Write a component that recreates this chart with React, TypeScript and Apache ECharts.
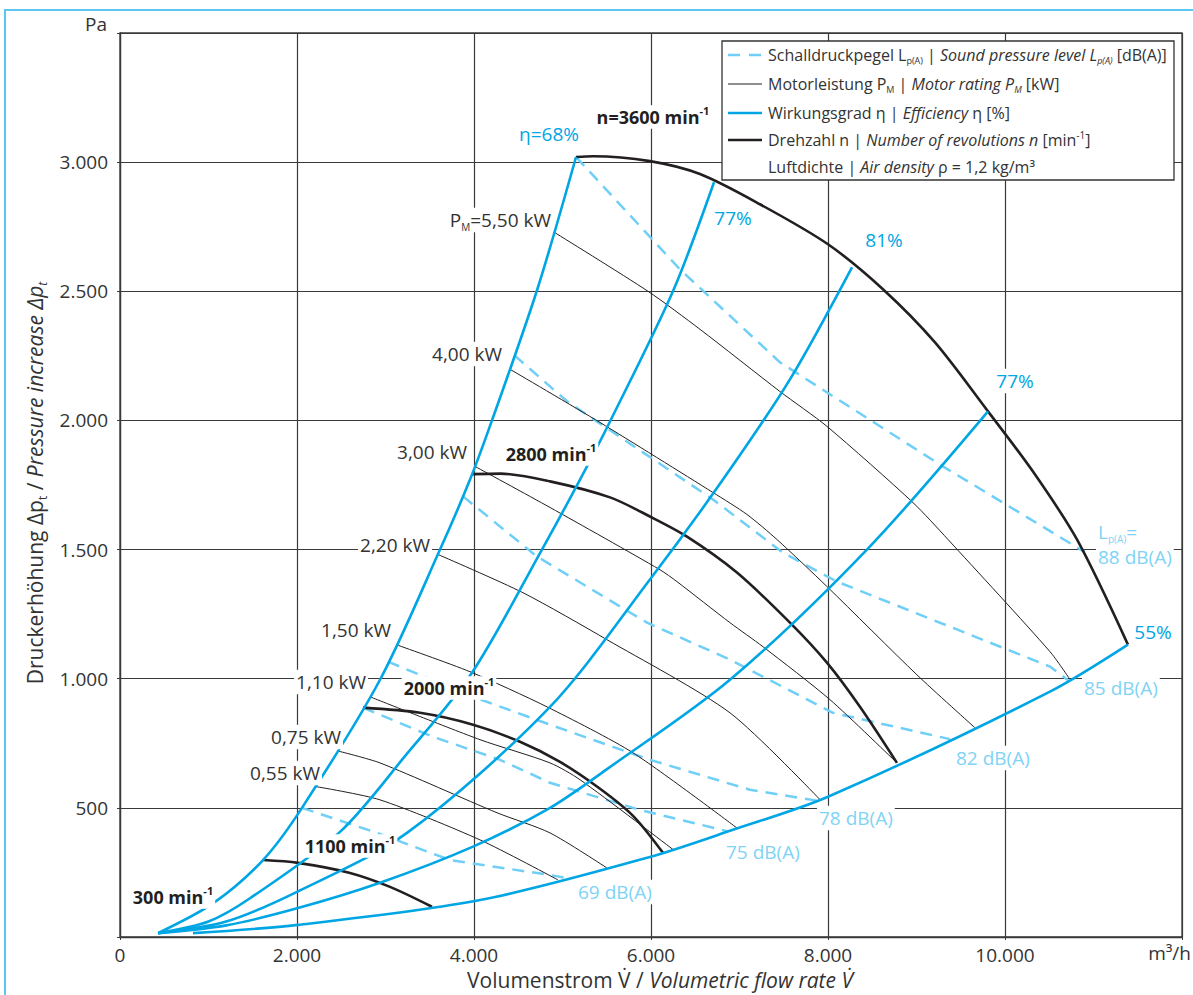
import React, { useEffect, useRef } from "react";
import * as echarts from "echarts";

const FONT = "'Open Sans', 'Noto Sans', sans-serif";
const BLUE = "#00a6e4";
const LIGHT = "#6fcff6";
const LIGHT_TXT = "#7fd3f5";
const DARK = "#231f20";
const GRIDC = "#3a3a3a";

// axis ticks
const xTickValues = [0, 2000, 4000, 6000, 8000, 10000, 12000];
const xTickLabels = ["0", "2.000", "4.000", "6.000", "8.000", "10.000", ""];
const yTickValues = [0, 500, 1000, 1500, 2000, 2500, 3000, 3500];
const yTickLabels = ["", "500", "1.000", "1.500", "2.000", "2.500", "3.000", ""];

// efficiency curves (m3/h, Pa)
const eff68 = [[430, 15], [1050, 130], [1616, 298], [2056, 500], [2938, 996], [3616, 1500], [3955, 1771], [4203, 2000], [4712, 2504], [5153, 3020]];
const eff77a = [[430, 15], [1000, 60], [1469, 150], [2486, 407], [3220, 700], [3977, 1023], [4768, 1500], [5198, 1771], [5537, 1996], [6248, 2500], [6712, 2922]];
const eff81 = [[430, 15], [1200, 60], [2000, 175], [3243, 403], [4859, 891], [5988, 1384], [6813, 1771], [7570, 2159], [8271, 2593]];
const eff77b = [[430, 15], [1200, 45], [2011, 112], [2938, 210], [3989, 350], [4859, 500], [5503, 650], [6892, 996], [8440, 1500], [9808, 2035]];
const eff55 = [[825, 15], [2011, 47], [4068, 143], [5988, 310], [6926, 415], [8000, 543], [10508, 950], [11389, 1132]];

// revolutions
const n1100 = [[1616, 298], [2011, 287], [2599, 248], [3051, 194], [3525, 117]];
const n2000 = [[2746, 888], [3390, 868], [3989, 822], [4520, 756], [4972, 678], [5424, 574], [5797, 469], [6135, 326]];
const n2800 = [[3977, 1792], [4300, 1794], [4859, 1764], [5537, 1702], [5988, 1628], [6407, 1550], [6971, 1411], [7570, 1217], [7988, 1062], [8361, 891], [8779, 674]];
const n3600 = [[5153, 3020], [5344, 3023], [5988, 3004], [6553, 2954], [7231, 2837], [8000, 2682], [8621, 2508], [9209, 2302], [9808, 2035], [10316, 1802], [10813, 1539], [11389, 1132]];

// motor rating
const p055 = [[2203, 583], [2938, 531], [4068, 376], [4949, 221]];
const p075 = [[2452, 721], [2938, 674], [4260, 481], [4859, 403], [5503, 267]];
const p110 = [[2825, 930], [4068, 764], [4859, 674], [5198, 609], [6248, 339]];
const p150 = [[3119, 1132], [3955, 1027], [4825, 891], [5797, 713], [6971, 422]];
const p220 = [[3593, 1481], [4553, 1333], [5503, 1151], [6892, 868], [7909, 532]];
const p300 = [[4011, 1822], [4859, 1663], [6101, 1422], [6293, 1376], [6892, 1217], [7265, 1124], [8022, 919], [8779, 674]];
const p400 = [[4407, 2198], [5424, 1992], [6700, 1721], [7084, 1636], [7423, 1539], [7988, 1357], [9005, 1015], [9661, 810]];
const p550 = [[4904, 2729], [5966, 2500], [6553, 2353], [7457, 2112], [7988, 1977], [8960, 1682], [9356, 1539], [10508, 1105], [10734, 997]];

// sound pressure level
const L69 = [[2056, 500], [2904, 403], [3729, 298], [4859, 240], [5028, 229]];
const L75 = [[2746, 888], [3537, 775], [4294, 686], [4859, 597], [5875, 492], [6870, 409]];
const L78 = [[3028, 1066], [3989, 930], [4859, 822], [5988, 686], [7118, 570], [7875, 528]];
const L82 = [[3876, 1706], [4712, 1473], [5955, 1217], [6892, 1074], [8056, 868], [9378, 766]];
const L85 = [[4457, 2252], [5051, 2074], [6700, 1694], [7491, 1488], [8101, 1376], [10508, 1047], [10712, 994]];
const L88 = [[5153, 3020], [6327, 2585], [7457, 2225], [9265, 1829], [10903, 1490]];

function rich(size: number, color: string, weight: string = "normal") {
  const b = { fontFamily: FONT, fill: color, fontWeight: weight };
  return {
    i: { ...b, fontSize: size, fontStyle: "italic", lineHeight: size * 1.3 },
    sub: { ...b, fontSize: Math.round(size * 0.55), verticalAlign: "bottom", lineHeight: size * 1.3 },
    isub: { ...b, fontSize: Math.round(size * 0.55), fontStyle: "italic", verticalAlign: "bottom", lineHeight: size * 1.3 },
    sup: { ...b, fontSize: Math.round(size * 0.6), verticalAlign: "top", lineHeight: size * 1.3 },
  };
}

function T(x: number, y: number, text: string, o: any = {}) {
  const size = o.size || 19;
  const color = o.color || "#333";
  const weight = o.weight || "normal";
  return {
    type: "text",
    x,
    y,
    z: 100,
    silent: true,
    rotation: o.rotation || 0,
    style: {
      text,
      fill: color,
      fontFamily: FONT,
      fontSize: size,
      fontWeight: weight,
      align: o.align || "center",
      verticalAlign: "middle",
      lineHeight: size * 1.3,
      backgroundColor: o.bg === false ? "transparent" : "#fff",
      padding: o.bg === false ? 0 : [0, 2, 0, 2],
      rich: rich(size, color, weight),
    },
  };
}

function lineSeries(data: number[][], color: string, width: number, dashed = false, smooth: number | boolean = 0.3) {
  return {
    type: "line",
    data,
    showSymbol: false,
    symbol: "none",
    smooth,
    silent: true,
    lineStyle: { color, width, type: dashed ? [12, 8] : "solid", cap: "butt" },
    z: dashed ? 3 : 4,
  };
}

export default function App() {
  const ref = useRef<HTMLDivElement>(null);
  useEffect(() => {
    document.body.style.margin = "0";
    const chart = echarts.init(ref.current!, null, { renderer: "svg" });
    const legendX = 768;
    const legendRows = [55, 84, 113, 140, 167];
    const option: any = {
      animation: false,
      grid: { left: 120, top: 33, right: 11, bottom: 58, show: true, borderColor: GRIDC, borderWidth: 1.3, containLabel: false },
      xAxis: {
        type: "value",
        min: 0,
        max: 12000,
        interval: 2000,
        axisLine: { show: true, lineStyle: { color: GRIDC, width: 1.3 } },
        axisTick: { show: true, length: 3, lineStyle: { color: GRIDC } },
        axisLabel: {
          margin: 8,
          color: "#333",
          fontFamily: FONT,
          fontSize: 19,
          formatter: (v: number) => {
            const i = xTickValues.indexOf(v);
            return i >= 0 ? xTickLabels[i] : "";
          },
        },
        splitLine: { show: true, lineStyle: { color: GRIDC, width: 1.2 } },
      },
      yAxis: {
        type: "value",
        min: 0,
        max: 3500,
        interval: 500,
        axisLine: { show: true, lineStyle: { color: GRIDC, width: 1.3 } },
        axisTick: { show: true, length: 3, lineStyle: { color: GRIDC } },
        axisLabel: {
          margin: 12,
          color: "#333",
          fontFamily: FONT,
          fontSize: 19,
          formatter: (v: number) => {
            const i = yTickValues.indexOf(v);
            return i >= 0 ? yTickLabels[i] : "";
          },
        },
        splitLine: { show: true, lineStyle: { color: GRIDC, width: 1.2 } },
      },
      series: [
        lineSeries(L69, LIGHT, 2.5, true, false),
        lineSeries(L75, LIGHT, 2.5, true, false),
        lineSeries(L78, LIGHT, 2.5, true, false),
        lineSeries(L82, LIGHT, 2.5, true, false),
        lineSeries(L85, LIGHT, 2.5, true, false),
        lineSeries(L88, LIGHT, 2.5, true, false),
        lineSeries(p055, DARK, 1, false, 0.25),
        lineSeries(p075, DARK, 1, false, 0.25),
        lineSeries(p110, DARK, 1, false, 0.25),
        lineSeries(p150, DARK, 1, false, 0.25),
        lineSeries(p220, DARK, 1, false, 0.25),
        lineSeries(p300, DARK, 1, false, 0.25),
        lineSeries(p400, DARK, 1, false, 0.25),
        lineSeries(p550, DARK, 1, false, 0.25),
        lineSeries(n1100, DARK, 2.6),
        lineSeries(n2000, DARK, 2.6),
        lineSeries(n2800, DARK, 2.6),
        lineSeries(n3600, DARK, 2.6),
        lineSeries(eff68, BLUE, 2.6),
        lineSeries(eff77a, BLUE, 2.6),
        lineSeries(eff81, BLUE, 2.6),
        lineSeries(eff77b, BLUE, 2.6),
        lineSeries(eff55, BLUE, 2.6),
      ],
      graphic: [
        { type: "rect", z: 0, silent: true, shape: { x: 5, y: 10, width: 1400, height: 1200 }, style: { fill: "transparent", stroke: "#5ec6f2", lineWidth: 2 } },
        // legend
        { type: "rect", z: 90, silent: true, shape: { x: 722, y: 41, width: 452, height: 139 }, style: { fill: "#fff", stroke: "#333", lineWidth: 1.3 } },
        { type: "line", z: 95, silent: true, shape: { x1: 728, y1: legendRows[0], x2: 764, y2: legendRows[0] }, style: { stroke: LIGHT, lineWidth: 2.4, lineDash: [12, 9] } },
        { type: "line", z: 95, silent: true, shape: { x1: 728, y1: legendRows[1], x2: 762, y2: legendRows[1] }, style: { stroke: DARK, lineWidth: 1 } },
        { type: "line", z: 95, silent: true, shape: { x1: 728, y1: legendRows[2], x2: 762, y2: legendRows[2] }, style: { stroke: BLUE, lineWidth: 2.4 } },
        { type: "line", z: 95, silent: true, shape: { x1: 728, y1: legendRows[3], x2: 762, y2: legendRows[3] }, style: { stroke: DARK, lineWidth: 2.6 } },
        T(legendX, legendRows[0], "Schalldruckpegel L{sub|p(A)} | {i|Sound pressure level L}{isub|p(A)} [dB(A)]", { size: 16, align: "left", bg: false }),
        T(legendX, legendRows[1], "Motorleistung P{sub|M} | {i|Motor rating P}{isub|M} [kW]", { size: 16, align: "left", bg: false }),
        T(legendX, legendRows[2], "Wirkungsgrad η | {i|Efficiency} η [%]", { size: 16, align: "left", bg: false }),
        T(legendX, legendRows[3], "Drehzahl n | {i|Number of revolutions n} [min{sup|-1}]", { size: 16, align: "left", bg: false }),
        T(legendX, legendRows[4], "Luftdichte | {i|Air density} ρ = 1,2 kg/m³", { size: 16, align: "left", bg: false }),
        // axis titles
        T(107, 24, "Pa", { align: "right", bg: false }),
        T(1191, 953, "m³/h", { align: "right", bg: false }),
        T(660, 980, "Volumenstrom V̇ / {i|Volumetric flow rate V̇}", { bg: false, size: 21 }),
        T(35, 483, "Druckerhöhung Δp{sub|t} / {i|Pressure increase Δp}{isub|t}", { bg: false, size: 21, rotation: Math.PI / 2 }),
        // efficiency labels
        T(549, 134, "η=68%", { color: BLUE, bg: false }),
        T(733, 218, "77%", { color: BLUE }),
        T(884, 240, "81%", { color: BLUE }),
        T(1015, 381, "77%", { color: BLUE }),
        T(1153, 632, "55%", { color: BLUE, bg: false }),
        // revolutions labels
        T(653, 117, "n=3600 min{sup|-1}", { weight: "bold", size: 18, color: DARK }),
        T(551, 454, "2800 min{sup|-1}", { weight: "bold", size: 18, color: DARK }),
        T(449, 688, "2000 min{sup|-1}", { weight: "bold", size: 18, color: DARK }),
        T(350, 846, "1100 min{sup|-1}", { weight: "bold", size: 18, color: DARK }),
        T(173, 897, "300 min{sup|-1}", { weight: "bold", size: 18, color: DARK }),
        // motor labels
        T(553, 220, "P{sub|M}=5,50 kW", { align: "right" }),
        T(504, 354, "4,00 kW", { align: "right" }),
        T(469, 452, "3,00 kW", { align: "right" }),
        T(432, 545, "2,20 kW", { align: "right" }),
        T(393, 630, "1,50 kW", { align: "right" }),
        T(368, 682, "1,10 kW", { align: "right" }),
        T(343, 737, "0,75 kW", { align: "right" }),
        T(322, 773, "0,55 kW", { align: "right" }),
        // sound labels
        T(1096, 532, "L{sub|p(A)}=", { align: "left", color: LIGHT_TXT }),
        T(1096, 557, "88 dB(A)", { align: "left", color: LIGHT_TXT }),
        T(1082, 688, "85 dB(A)", { align: "left", color: LIGHT_TXT }),
        T(954, 758, "82 dB(A)", { align: "left", color: LIGHT_TXT }),
        T(817, 818, "78 dB(A)", { align: "left", color: LIGHT_TXT }),
        T(724, 852, "75 dB(A)", { align: "left", color: LIGHT_TXT }),
        T(576, 892, "69 dB(A)", { align: "left", color: LIGHT_TXT }),
      ],
    };
    chart.setOption(option);
    return () => chart.dispose();
  }, []);
  return <div ref={ref} style={{ width: 1193, height: 995 }} />;
}
